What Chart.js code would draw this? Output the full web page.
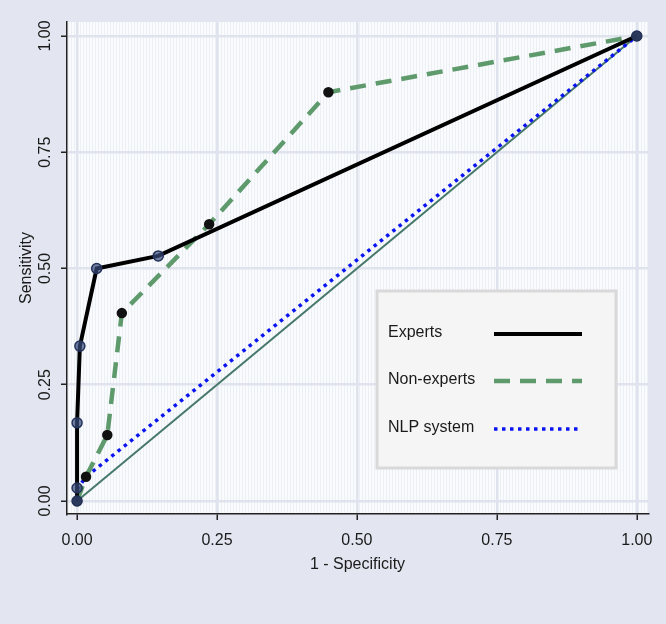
<!DOCTYPE html>
<html>
<head>
<meta charset="utf-8">
<script src="https://cdn.jsdelivr.net/npm/chart.js@4/dist/chart.umd.min.js"></script>
<style>
  html, body { margin: 0; padding: 0; background: #e3e6f0; }
  #wrap { width: 666px; height: 624px; }
</style>
</head>
<body>
<div id="wrap"><canvas id="roc"></canvas></div>
<script>
// ROC points (x = 1 - specificity, y = sensitivity)
var tickVals = [0, 0.25, 0.5, 0.75, 1];

var expertsX = [0, 0, 0, 0.005, 0.035, 0.145, 1];
var expertsY = [0, 0.028, 0.168, 0.333, 0.50, 0.527, 1];

var nonExpX = [0, 0.016, 0.054, 0.080, 0.236, 0.449, 1];
var nonExpY = [0, 0.052, 0.142, 0.404, 0.595, 0.879, 1];

var nlpX = [0, 0.016, 1];
var nlpY = [0.025, 0.052, 1];

var refX = [0, 1];
var refY = [0, 1];

function pts(xs, ys) {
    var out = [];
    for (var i = 0; i < xs.length; i++) {
        out.push({x: xs[i], y: ys[i]});
    }
    return out;
}

var labelFont = {family: "'Liberation Sans', Arial, sans-serif", size: 16};

// hatched plot background, like the stata scheme
var plotBg = {
    id: 'plotBg',
    beforeDraw: function (chart) {
        var a = chart.chartArea;
        var ctx = chart.ctx;
        ctx.save();
        ctx.fillStyle = '#fafbfd';
        ctx.fillRect(a.left, a.top, a.right - a.left, a.bottom - a.top);
        ctx.strokeStyle = '#eceff6';
        ctx.lineWidth = 1;
        ctx.beginPath();
        for (var x = a.left + 1.5; x < a.right; x += 3) {
            ctx.moveTo(x, a.top);
            ctx.lineTo(x, a.bottom);
        }
        ctx.stroke();
        ctx.restore();
    }
};

// legend box drawn inside the plot, label + line sample on the right
var boxLegend = {
    id: 'boxLegend',
    afterDraw: function (chart) {
        var ctx = chart.ctx;
        var bx = 377, by = 291, bw = 239, bh = 177;
        ctx.save();
        ctx.fillStyle = '#f5f5f5';
        ctx.fillRect(bx, by, bw, bh);
        ctx.strokeStyle = '#d9d9d9';
        ctx.lineWidth = 3;
        ctx.strokeRect(bx, by, bw, bh);
        var rows = [333, 380, 428];
        var k = 0;
        chart.data.datasets.forEach(function (ds) {
            if (!ds.inLegend) return;
            var y = rows[k++];
            ctx.fillStyle = '#1a1a1a';
            ctx.font = "16px 'Liberation Sans', Arial, sans-serif";
            ctx.textAlign = 'left';
            ctx.textBaseline = 'middle';
            ctx.fillText(ds.label, 388, y);
            ctx.strokeStyle = ds.borderColor;
            ctx.lineWidth = ds.borderWidth;
            ctx.setLineDash(ds.borderDash || []);
            ctx.beginPath();
            ctx.moveTo(494, y + 1);
            ctx.lineTo(582, y + 1);
            ctx.stroke();
            ctx.setLineDash([]);
        });
        ctx.restore();
    }
};

var ctx = document.getElementById('roc').getContext('2d');
window.RocChart = new Chart(ctx, {
    type: 'scatter',
    data: {
        datasets: [
            {
                label: 'Experts',
                inLegend: true,
                data: pts(expertsX, expertsY),
                showLine: true,
                borderColor: '#000000',
                borderWidth: 4,
                pointRadius: 5,
                pointBackgroundColor: 'rgba(55,75,125,0.7)',
                pointBorderColor: '#24325a',
                pointBorderWidth: 1.5,
                order: 1
            },
            {
                label: 'Non-experts',
                inLegend: true,
                data: pts(nonExpX, nonExpY),
                showLine: true,
                borderColor: '#5e9a6c',
                borderWidth: 4.5,
                borderDash: [16, 10],
                pointRadius: 3,
                pointBackgroundColor: '#111111',
                pointBorderColor: '#111111',
                order: 2
            },
            {
                label: 'NLP system',
                inLegend: true,
                data: pts(nlpX, nlpY),
                showLine: true,
                borderColor: '#0a14ee',
                borderWidth: 3.5,
                borderDash: [3.5, 4.5],
                pointRadius: 0,
                order: 3
            },
            {
                label: 'Reference',
                inLegend: false,
                data: pts(refX, refY),
                showLine: true,
                borderColor: '#46786a',
                borderWidth: 2,
                pointRadius: 0,
                order: 4
            }
        ]
    },
    options: {
        responsive: true,
        maintainAspectRatio: false,
        animation: false,
        layout: {
            padding: {left: 17, top: 22, right: 18, bottom: 50}
        },
        plugins: {
            legend: {display: false},
            tooltip: {enabled: false}
        },
        scales: {
            x: {
                type: 'linear',
                min: -0.018,
                max: 1.02,
                afterBuildTicks: function (s) {
                    s.ticks = tickVals.map(function (v) { return {value: v}; });
                },
                afterFit: function (s) { s.height = 60; },
                border: {display: true, color: '#222222', width: 1.5},
                grid: {
                    color: '#dfe3ee',
                    lineWidth: 2.5,
                    tickColor: '#222222',
                    tickLength: 6,
                    tickWidth: 1.5
                },
                ticks: {
                    font: labelFont,
                    color: '#1a1a1a',
                    padding: 11,
                    maxRotation: 0,
                    callback: function (v) { return v.toFixed(2); }
                },
                title: {
                    display: true,
                    text: '1 - Specificity',
                    font: labelFont,
                    color: '#1a1a1a',
                    padding: 0
                }
            },
            y: {
                type: 'linear',
                min: -0.028,
                max: 1.03,
                afterBuildTicks: function (s) {
                    s.ticks = tickVals.map(function (v) { return {value: v}; });
                },
                afterFit: function (s) { s.width = 50; },
                border: {display: true, color: '#222222', width: 1.5},
                grid: {
                    color: '#dfe3ee',
                    lineWidth: 2.5,
                    tickColor: '#222222',
                    tickLength: 6,
                    tickWidth: 1.5
                },
                ticks: {
                    font: labelFont,
                    color: '#1a1a1a',
                    padding: 0,
                    minRotation: 90,
                    maxRotation: 90,
                    crossAlign: 'center',
                    callback: function (v) { return v.toFixed(2); }
                },
                title: {
                    display: true,
                    text: 'Sensitivity',
                    font: labelFont,
                    color: '#1a1a1a',
                    padding: 0
                }
            }
        }
    },
    plugins: [plotBg, boxLegend]
});
</script>
</body>
</html>
